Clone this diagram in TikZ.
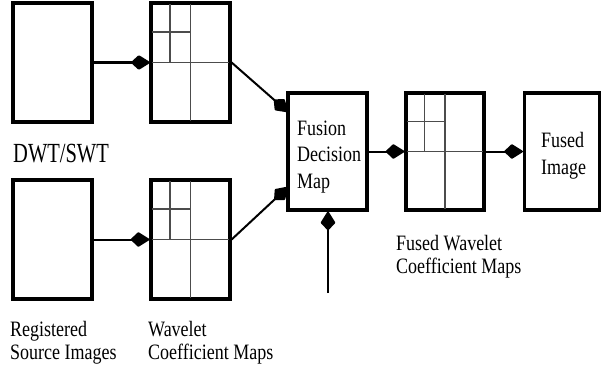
\documentclass[tikz,border=0pt]{standalone}
\usepackage{fontspec}
\setmainfont{Liberation Serif}
\usetikzlibrary{arrows.meta,calc}
\newcommand\tallt[1]{\scalebox{1}[1.22]{#1}}
\begin{document}
\begin{tikzpicture}[x=1pt,y=-1pt,
  box/.style={draw=black,line width=3.2pt,rectangle,inner sep=0pt,minimum width=79pt,minimum height=119pt},
  grid/.style={draw=black!70,line width=1.3pt,shorten <=3pt},
  conn/.style={line width=2pt,-{Kite[length=20pt,width=15pt,inset=8pt,round]}},
  txt/.style={font=\fontsize{18}{24}\selectfont,inner sep=0pt,anchor=base west}]
\useasboundingbox (0,0) rectangle (602,372);
% boxes
\node[box] (src1) at (52.5,62.5) {};
\node[box] (src2) at (52.5,239.5) {};
\node[box] (wc1) at (190.5,62.5) {};
\node[box] (wc2) at (190.5,239.5) {};
\node[box,minimum height=117pt] (fdm) at (327.5,151.5) {};
\node[box,minimum width=78pt,minimum height=117pt] (fwc) at (445,151.5) {};
\node[box,minimum width=75pt,minimum height=117pt] (fi) at (562,151.5) {};
% wavelet grids
\foreach \b in {wc1,wc2,fwc}{
  \draw[grid,shorten >=3pt] (\b.west) -- (\b.east);
  \draw[grid,shorten >=3pt] (\b.north) -- (\b.south);
  \draw[grid] ($(\b.north west)!0.5!(\b.west)$) -- ($(\b.north)!0.5!(\b.center)$);
  \draw[grid] ($(\b.north west)!0.5!(\b.north)$) -- ($(\b.west)!0.5!(\b.center)$);
}
% texts inside
\node[txt] (fdm1) at (297,135) {\tallt{Fusion}};
\node[txt] (fdm2) at (297,161) {\tallt{Decision}};
\node[txt] (fdm3) at (297,188) {\tallt{Map}};
\node[txt] (fi1) at (541,147) {\tallt{Fused}};
\node[txt] (fi2) at (541,174) {\tallt{Image}};
% labels
\node[txt,font=\fontsize{20.5}{24}\selectfont] (dwt) at (13,162) {\scalebox{1}[1.35]{DWT/SWT}};
\node[txt] (lsrc1) at (10,336) {\tallt{Registered}};
\node[txt] (lsrc2) at (10,359) {\tallt{Source Images}};
\node[txt] (lwc1) at (148,336) {\tallt{Wavelet}};
\node[txt] (lwc2) at (148,359) {\tallt{Coefficient Maps}};
\node[txt] (lfwc1) at (396,250) {\tallt{Fused Wavelet}};
\node[txt] (lfwc2) at (396,273) {\tallt{Coefficient Maps}};
% connectors
\coordinate (in1) at (288,112);
\coordinate (in2) at (288,187);
\coordinate (vb) at (328,293);
\draw[conn,line width=3pt] (src1.east) -- (wc1.west);
\draw[conn] (src2.east) -- (wc2.west);
\draw[conn] (wc1.east) -- (in1);
\draw[conn] (wc2.east) -- (in2);
\draw[conn] (vb) -- (vb |- fdm.south);
\draw[conn] (fdm.east) -- (fwc.west);
\draw[conn] (fwc.east) -- (fi.west);
\end{tikzpicture}
\end{document}
